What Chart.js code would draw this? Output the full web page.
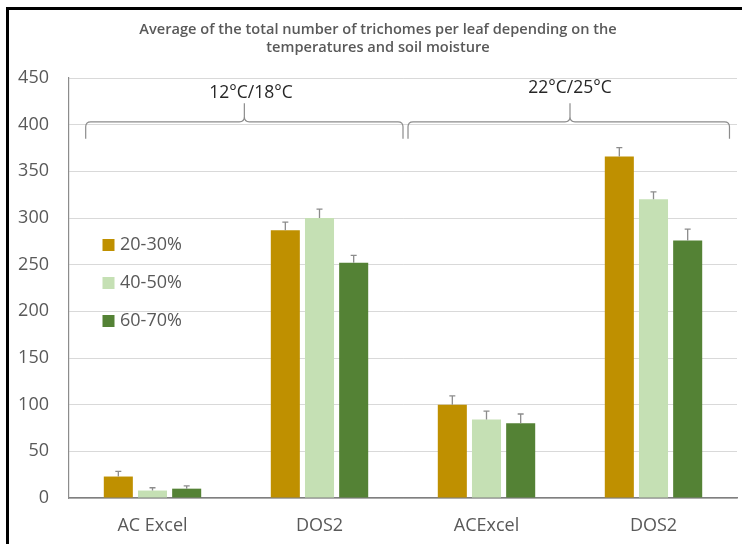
<!DOCTYPE html>
<html>
<head>
<meta charset="utf-8">
<title>Trichomes per leaf</title>
<script src="https://cdn.jsdelivr.net/npm/chart.js@4.4.1/dist/chart.umd.min.js"></script>
<style>
  html, body { margin: 0; padding: 0; background: #ffffff; }
  #wrap { position: relative; width: 742px; height: 544px; }
</style>
</head>
<body>
<div id="wrap"><canvas id="chart" width="742" height="544"></canvas></div>
<script>
// Categories along the x axis
const categories = ['AC Excel', 'DOS2', 'ACExcel', 'DOS2'];

// Soil moisture series
const seriesNames = ['20-30%', '40-50%', '60-70%'];
const moisture20to30 = [23, 287, 100, 366];
const moisture40to50 = [8, 300, 84, 320];
const moisture60to70 = [10, 252, 80, 276];

// Upper error (standard error) for each bar
const err20to30 = [5.5, 8.5, 9.5, 9.5];
const err40to50 = [3, 9.5, 9, 8];
const err60to70 = [3, 8, 10, 12];

// Temperature groups spanning pairs of categories
const groupLabels = ['12°C/18°C', '22°C/25°C'];

const titleLines = ['Average of the total number of trichomes per leaf depending on the',
                    'temperatures and soil moisture'];

const colors = ['#BF9000', '#C5E0B4', '#548235'];
const FONT = '"Open Sans", "DejaVu Sans", sans-serif';

// Frame, title and white background
const framePlugin = {
  id: 'frame',
  beforeDraw(chart) {
    const ctx = chart.ctx;
    ctx.save();
    ctx.fillStyle = '#ffffff';
    ctx.fillRect(0, 0, chart.width, chart.height);
    ctx.fillStyle = '#000000';
    ctx.fillRect(6, 7, chart.width - 6, 3);
    ctx.fillRect(6, 7, 3, chart.height - 7);
    ctx.fillStyle = '#595959';
    ctx.font = '600 14.6px ' + FONT;
    ctx.textAlign = 'center';
    ctx.textBaseline = 'middle';
    ctx.fillText(titleLines[0], 378, 30);
    ctx.fillText(titleLines[1], 378, 48);
    ctx.restore();
  }
};

// Upward error bars with a small cap
const errorBarPlugin = {
  id: 'errorBars',
  afterDatasetsDraw(chart) {
    const ctx = chart.ctx;
    const y = chart.scales.y;
    ctx.save();
    ctx.strokeStyle = '#8C8C8C';
    ctx.lineWidth = 1.3;
    chart.data.datasets.forEach((ds, i) => {
      const meta = chart.getDatasetMeta(i);
      meta.data.forEach((bar, j) => {
        const top = y.getPixelForValue(ds.data[j] + ds.errors[j]);
        ctx.beginPath();
        ctx.moveTo(bar.x, bar.y);
        ctx.lineTo(bar.x, top);
        ctx.moveTo(bar.x - 3, top);
        ctx.lineTo(bar.x + 3, top);
        ctx.stroke();
      });
    });
    ctx.restore();
  }
};

// Curly braces grouping categories by temperature
const bracePlugin = {
  id: 'braces',
  afterDatasetsDraw(chart, args, opts) {
    const ctx = chart.ctx;
    const x = chart.scales.x;
    const y = chart.scales.y;
    const px = v => x.getPixelForValue(0) + v * (x.getPixelForValue(1) - x.getPixelForValue(0));
    ctx.save();
    ctx.strokeStyle = '#8C8C8C';
    ctx.lineWidth = 1.2;
    opts.groups.forEach((g, k) => {
      const x0 = px(g.from), x1 = px(g.to), xm = px(g.apex);
      const yl = y.getPixelForValue(opts.lineValue);
      const ye = y.getPixelForValue(opts.endValue);
      const yt = y.getPixelForValue(opts.tipValue);
      const r = 5;
      ctx.beginPath();
      ctx.moveTo(x0, ye);
      ctx.lineTo(x0, yl + r);
      ctx.quadraticCurveTo(x0, yl, x0 + r, yl);
      ctx.lineTo(xm - r, yl);
      ctx.quadraticCurveTo(xm, yl, xm, yl - r);
      ctx.lineTo(xm, yt);
      ctx.moveTo(xm, yl - r);
      ctx.quadraticCurveTo(xm, yl, xm + r, yl);
      ctx.lineTo(x1 - r, yl);
      ctx.quadraticCurveTo(x1, yl, x1, yl + r);
      ctx.lineTo(x1, ye);
      ctx.stroke();
      ctx.fillStyle = '#262626';
      ctx.font = '17.5px ' + FONT;
      ctx.textAlign = 'center';
      ctx.textBaseline = 'middle';
      ctx.fillText(groupLabels[k], px(g.textAt), y.getPixelForValue(g.textValue));
    });
    ctx.restore();
  }
};

// Legend placed inside the plot area
const innerLegendPlugin = {
  id: 'innerLegend',
  afterDatasetsDraw(chart) {
    const ctx = chart.ctx;
    ctx.save();
    ctx.font = '18px ' + FONT;
    ctx.textBaseline = 'middle';
    ctx.textAlign = 'left';
    chart.data.datasets.forEach((ds, i) => {
      const cy = 245 + i * 38;
      ctx.fillStyle = ds.backgroundColor;
      ctx.fillRect(102.5, cy - 6, 12, 12);
      ctx.fillStyle = '#595959';
      ctx.fillText(ds.label, 120, cy);
    });
    ctx.restore();
  }
};

const values = [moisture20to30, moisture40to50, moisture60to70];
const errors = [err20to30, err40to50, err60to70];

new Chart(document.getElementById('chart'), {
  type: 'bar',
  data: {
    labels: categories,
    datasets: seriesNames.map((name, i) => ({
      label: name,
      data: values[i],
      errors: errors[i],
      backgroundColor: colors[i],
      borderWidth: 0,
      barPercentage: 0.85,
      categoryPercentage: 0.614
    }))
  },
  options: {
    responsive: false,
    animation: false,
    layout: { padding: { left: 0, right: 5, top: 78, bottom: 0 } },
    plugins: {
      legend: { display: false },
      title: { display: false },
      tooltip: { enabled: false },
      braces: {
        lineValue: 403,
        endValue: 385,
        tipValue: 423,
        groups: [
          { from: -0.4, to: 1.5, apex: 0.55, textAt: 0.59, textValue: 434 },
          { from: 1.53, to: 3.455, apex: 2.5, textAt: 2.5, textValue: 439 }
        ]
      }
    },
    scales: {
      x: {
        grid: { display: false, drawTicks: false },
        border: { display: true, color: '#7F7F7F', width: 1.5 },
        ticks: { color: '#595959', font: { family: FONT, size: 18 }, padding: 17 },
        afterFit(scale) { scale.height = 46; }
      },
      y: {
        min: 0,
        max: 450,
        ticks: { stepSize: 50, color: '#595959', font: { family: FONT, size: 18 }, padding: 20 },
        grid: { color: '#D9D9D9', lineWidth: 1, drawTicks: false },
        border: { display: true, color: '#8C8C8C', width: 1.2 },
        afterFit(scale) { scale.width = 69; }
      }
    }
  },
  plugins: [framePlugin, errorBarPlugin, bracePlugin, innerLegendPlugin]
});
</script>
</body>
</html>
